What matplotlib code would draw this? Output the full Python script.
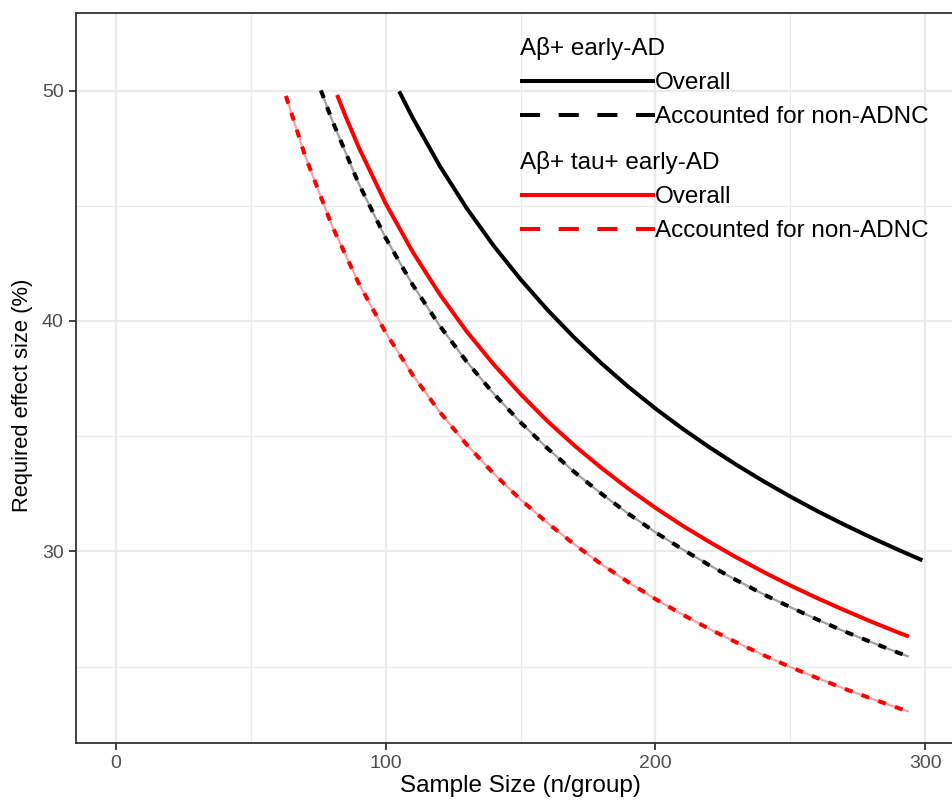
import matplotlib
matplotlib.use("Agg")
import matplotlib.pyplot as plt
from matplotlib.lines import Line2D

# ---- data ----
n_ab_overall = [105, 110, 120, 130, 140, 150, 160, 170, 180, 190, 200, 210, 220, 230, 240, 250, 260, 270, 280, 290, 299]
es_ab_overall = [49.97, 48.82, 46.74, 44.90, 43.27, 41.81, 40.48, 39.27, 38.16, 37.14, 36.20, 35.33, 34.52, 33.76, 33.05, 32.38, 31.75, 31.16, 30.60, 30.07, 29.61]

n_ab_adnc = [76, 80, 90, 100, 110, 120, 130, 140, 150, 160, 170, 180, 190, 200, 210, 220, 230, 240, 250, 260, 270, 280, 290, 294]
es_ab_adnc = [50.01, 48.75, 45.96, 43.60, 41.57, 39.80, 38.24, 36.85, 35.60, 34.47, 33.44, 32.50, 31.63, 30.83, 30.09, 29.40, 28.75, 28.14, 27.58, 27.04, 26.53, 26.06, 25.60, 25.43]

n_abtau_overall = [82, 85, 90, 100, 110, 120, 130, 140, 150, 160, 170, 180, 190, 200, 210, 220, 230, 240, 250, 260, 270, 280, 290, 294]
es_abtau_overall = [49.81, 48.92, 47.54, 45.10, 43.00, 41.17, 39.55, 38.12, 36.83, 35.65, 34.59, 33.62, 32.72, 31.89, 31.12, 30.41, 29.74, 29.11, 28.52, 27.97, 27.45, 26.95, 26.48, 26.30]

n_abtau_adnc = [63, 70, 80, 90, 100, 110, 120, 130, 140, 150, 160, 170, 180, 190, 200, 210, 220, 230, 240, 250, 260, 270, 280, 290, 294]
es_abtau_adnc = [49.77, 47.21, 44.16, 41.64, 39.50, 37.66, 36.06, 34.64, 33.38, 32.25, 31.23, 30.30, 29.44, 28.66, 27.93, 27.26, 26.63, 26.05, 25.50, 24.98, 24.50, 24.04, 23.61, 23.20, 23.04]

x_ticks = [0, 100, 200, 300]
y_ticks = [30, 40, 50]
x_minor = [50, 150, 250]
y_minor = [25, 35, 45]

group1_title = "Aβ+ early-AD"
group2_title = "Aβ+ tau+ early-AD"
label_overall = "Overall"
label_adnc = "Accounted for non-ADNC"

# ---- figure ----
plt.rcParams['font.family'] = ['Liberation Sans', 'DejaVu Sans']
W, H = 952, 801
fig = plt.figure(figsize=(W / 100, H / 100), dpi=100)
ax = fig.add_axes([76 / W, (H - 743) / H, (965 - 76) / W, (743 - 13) / H])
ax.set_xlim(-14.83, 314.8)
ax.set_ylim(21.68, 53.37)

ax.set_xticks(x_ticks)
ax.set_yticks(y_ticks)
ax.set_xticks(x_minor, minor=True)
ax.set_yticks(y_minor, minor=True)
ax.grid(which='major', color='#ebebeb', linewidth=1.6)
ax.grid(which='minor', color='#ebebeb', linewidth=0.9)
ax.set_axisbelow(True)
ax.tick_params(which='minor', length=0)
ax.tick_params(which='major', length=5, width=1.3, color='#333333',
               labelsize=14, labelcolor='#4d4d4d', pad=4)
for s in ax.spines.values():
    s.set_color('#333333')
    s.set_linewidth(1.3)

lw = 2.9
dash = (2.0, 2.4)
# underlay lines visible in the gaps of the dashed curves
ax.plot(n_ab_adnc, es_ab_adnc, color='#a0a0a0', linewidth=1.6, solid_capstyle='butt')
ax.plot(n_abtau_adnc, es_abtau_adnc, color='#f6a3a3', linewidth=1.6, solid_capstyle='butt')

ax.plot(n_ab_overall, es_ab_overall, color='black', linewidth=lw, solid_capstyle='butt')
ax.plot(n_abtau_overall, es_abtau_overall, color='#ff0000', linewidth=lw, solid_capstyle='butt')
ax.plot(n_ab_adnc, es_ab_adnc, color='black', linewidth=lw, linestyle=(0, dash), dash_capstyle='butt')
ax.plot(n_abtau_adnc, es_abtau_adnc, color='#ff0000', linewidth=lw, linestyle=(0, dash), dash_capstyle='butt')

ax.set_xlabel("Sample Size (n/group)", fontsize=17.5, color='black')
ax.xaxis.set_label_coords(0.5, -32 / 730, transform=ax.transAxes)
ax.set_ylabel("Required effect size (%)", fontsize=15.8, color='black')
ax.yaxis.set_label_coords(-43 / 889, (743 - 395) / 730, transform=ax.transAxes)

# ---- legends ----
leg_fs = 17.5
ldash = (0, (5.0, 4.6))
h1 = [Line2D([], [], color='black', linewidth=lw, solid_capstyle='butt'),
      Line2D([], [], color='black', linewidth=lw, linestyle=ldash, dash_capstyle='butt')]
h2 = [Line2D([], [], color='#ff0000', linewidth=lw, solid_capstyle='butt'),
      Line2D([], [], color='#ff0000', linewidth=lw, linestyle=ldash, dash_capstyle='butt')]

common = dict(loc='upper left', frameon=False, fontsize=leg_fs, title_fontsize=leg_fs,
              handlelength=5.55, handletextpad=0.0, borderpad=0.0, borderaxespad=0.0,
              labelspacing=0.5, alignment='left')
leg1 = ax.legend(h1, [label_overall, label_adnc], title=group1_title,
                 bbox_to_anchor=(520 / W, (H - 37) / H), bbox_transform=fig.transFigure, **common)
ax.add_artist(leg1)
leg2 = ax.legend(h2, [label_overall, label_adnc], title=group2_title,
                 bbox_to_anchor=(520 / W, (H - 151) / H), bbox_transform=fig.transFigure, **common)

fig.savefig("out.png", dpi=100)
